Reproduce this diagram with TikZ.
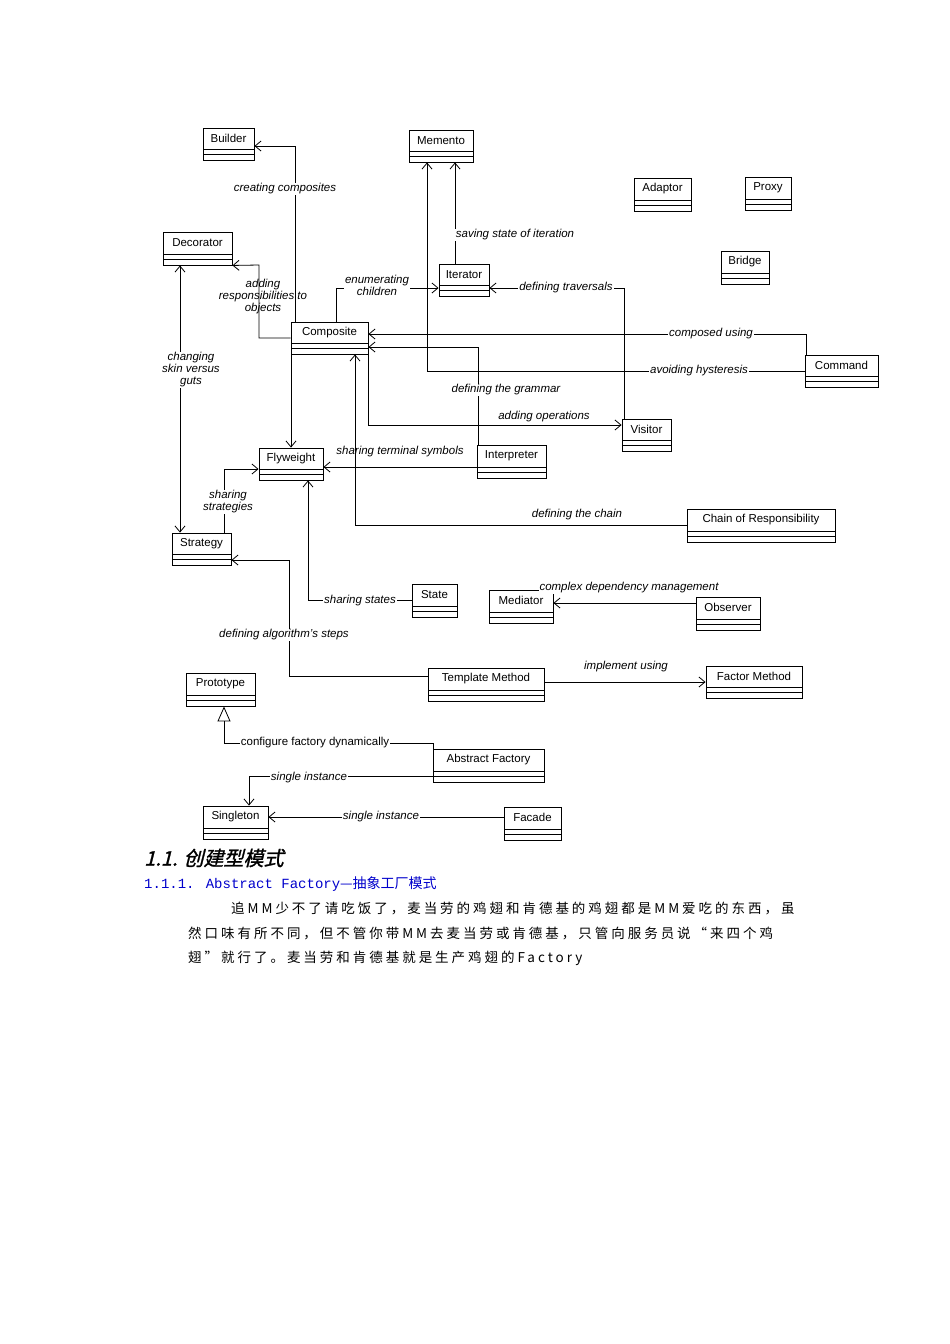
\documentclass[tikz,border=0pt]{standalone}
\usepackage{fontspec}
\setmainfont{Liberation Sans}
\newfontfamily\cjk{Noto Sans CJK SC}
\newfontfamily\cjkbody[LetterSpace=22]{Noto Sans CJK SC}
\newfontfamily\cjkit[FakeSlant=0.25,FakeBold=1.2]{Noto Sans CJK SC}
\newfontfamily\monof{Liberation Mono}
\usetikzlibrary{fit,calc,arrows.meta}
\tikzset{
 clsbox/.style={draw,line width=0.9pt,inner sep=0pt,
   path picture={\draw ([yshift=11pt]path picture bounding box.south west) -- ([yshift=11pt]path picture bounding box.south east);
                 \draw ([yshift=6pt]path picture bounding box.south west) -- ([yshift=6pt]path picture bounding box.south east);}},
 clsname/.style={font=\fontsize{11.5}{13}\selectfont,inner sep=0pt},
 lab/.style={font=\fontsize{11.5}{13}\selectfont\itshape,fill=white,inner sep=1pt,align=center},
 arr/.style={-{Straight Barb[length=6pt,width=10pt]},line width=0.8pt},
 ln/.style={line width=0.8pt}
}
\newcommand\umlcls[6]{\node[clsbox,fit={(#2,#3)(#4,#5)}] (#1) {};
 \node[clsname] (#1-t) at ($(#1.north)+(0,11)$) {#6};}
\begin{document}
\begin{tikzpicture}[x=1pt,y=-1pt]
\useasboundingbox[fill=white] (0,0) rectangle (950,1344);
\umlcls{builder}{203}{128}{254}{160}{Builder}
\umlcls{mem}{409}{130}{473}{162}{Memento}
\umlcls{adaptor}{634}{178}{691}{211}{Adaptor}
\umlcls{proxy}{745}{177}{791}{210}{Proxy}
\umlcls{deco}{163}{232}{232}{265}{Decorator}
\umlcls{bridge}{721}{251}{769}{284}{Bridge}
\umlcls{iter}{439}{264}{489}{296}{Iterator}
\umlcls{comp}{291}{322}{368}{354}{Composite}
\umlcls{cmd}{805}{355}{878}{387}{Command}
\umlcls{vis}{622}{419}{671}{451}{Visitor}
\umlcls{fly}{259}{448}{323}{480}{Flyweight}
\umlcls{interp}{477}{445}{546}{478}{Interpreter}
\umlcls{strat}{172}{533}{231}{565}{Strategy}
\umlcls{chain}{687}{509}{835}{542}{Chain of Responsibility}
\umlcls{state}{412}{584}{457}{617}{State}
\umlcls{med}{489}{590}{553}{623}{Mediator}
\umlcls{obs}{696}{597}{760}{630}{Observer}
\umlcls{tm}{428}{668}{544}{701}{Template Method}
\umlcls{fm}{706}{666}{802}{698}{Factor Method}
\umlcls{proto}{186}{673}{255}{706}{Prototype}
\umlcls{af}{433}{749}{544}{782}{Abstract Factory}
\umlcls{single}{203}{806}{268}{839}{Singleton}
\umlcls{facade}{504}{807}{561}{840}{Facade}

\draw[arr] (comp.north -| 295,0) |- (builder.east |- 0,146);
\draw[arr] (comp.west) -| (259,265) -- (deco.south east);
\draw[arr] (comp.north -| 336,0) |- (iter.west |- 0,288);
\draw[arr] (iter.north -| 455,0) -- (mem.south -| 455,0);
\draw[arr] (vis.north -| 624,0) |- (iter.east |- 0,288);
\draw[arr] (cmd.north -| 806,0) |- (comp.east |- 0,334);
\draw[arr] (cmd.west) -| (mem.south -| 427,0);
\draw[arr] (interp.north -| 478,0) |- (comp.east |- 0,347);
\draw[arr] (comp.south east) |- (vis.west |- 0,425);
\draw[arr] (comp.south -| 291,0) -- (fly.north -| 291,0);
\draw[arr] (interp.west |- 0,467) -- (fly.east |- 0,467);
\draw[{Straight Barb[length=6pt,width=10pt]}-{Straight Barb[length=6pt,width=10pt]},line width=0.8pt] (deco.south -| 180,0) -- (strat.north -| 180,0);
\draw[arr] (strat.north -| 224,0) |- (fly.west |- 0,469);
\draw[arr] (chain.west) -| (comp.south -| 355,0);
\draw[arr] (state.west) -| (fly.south -| 308,0);
\draw[arr] (obs.west |- 0,603) -- (med.east |- 0,603);
\draw[arr] (tm.west |- 0,676) -| (289,560) -- (strat.east |- 0,560);
\draw[arr] (tm.east |- 0,682) -- (fm.west |- 0,682);
\draw[ln,-{Triangle[open,length=15pt,width=13pt]}] (af.north -| 433,0) |- (224,743) -- (proto.south -| 224,0);
\draw[arr] (af.west |- 0,776) -| (single.north -| 249,0);
\draw[arr] (facade.west |- 0,817) -- (single.east |- 0,817);

\node[lab] (l1) at (285,189) {creating composites};
\node[lab,fill=none] (l2) at (263,297) {adding\\[-1pt]responsibilities to\\[-1pt]objects};
\node[lab] (l3) at (377,285) {enumerating\\[-1pt]children};
\node[lab] (l4) at (515,235) {saving state of iteration};
\node[lab] (l5) at (566,288) {defining traversals};
\node[lab] (l6) at (711,334) {composed using};
\node[lab] (l7) at (699,371) {avoiding hysteresis};
\node[lab] (l8) at (506,390) {defining the grammar};
\node[lab,fill=none] (l9) at (544,417) {adding operations};
\node[lab,fill=none] (l10) at (400,452) {sharing terminal symbols};
\node[lab] (l11) at (191,370) {changing\\[-1pt]skin versus\\[-1pt]guts};
\node[lab] (l12) at (228,502) {sharing\\[-1pt]strategies};
\node[lab,fill=none] (l13) at (577,515) {defining the chain};
\node[lab] (l14) at (360,601) {sharing states};
\node[lab] (l15) at (629,588) {complex dependency management};
\node[lab] (l16) at (284,635) {defining algorithm's steps};
\node[lab,fill=none] (l17) at (626,667) {implement using};
\node[lab,font=\fontsize{11.5}{13}\selectfont] (l18) at (315,743) {configure factory dynamically};
\node[lab] (l19) at (309,778) {single instance};
\node[lab] (l20) at (381,817) {single instance};

\node[anchor=west,inner sep=0pt,font=\fontsize{20}{22}\selectfont] (h1) at (144,858) {\cjkit 1.1. 创建型模式};
\node[anchor=west,inner sep=0pt,text=blue!80!black,font=\fontsize{14}{16}\selectfont] (h2) at (144,884) {\monof 1.1.1. Abstract Factory\cjk —抽象工厂模式};
\node[anchor=west,inner sep=0pt,font=\fontsize{13.5}{16}\selectfont] (p1) at (231,908) {\cjkbody 追MM少不了请吃饭了，麦当劳的鸡翅和肯德基的鸡翅都是MM爱吃的东西，虽};
\node[anchor=west,inner sep=0pt,font=\fontsize{13.5}{16}\selectfont] (p2) at (188,933) {\cjkbody 然口味有所不同，但不管你带MM去麦当劳或肯德基，只管向服务员说“来四个鸡};
\node[anchor=west,inner sep=0pt,font=\fontsize{13.5}{16}\selectfont] (p3) at (188,958) {\cjkbody 翅”就行了。麦当劳和肯德基就是生产鸡翅的Factory};
\end{tikzpicture}
\end{document}
